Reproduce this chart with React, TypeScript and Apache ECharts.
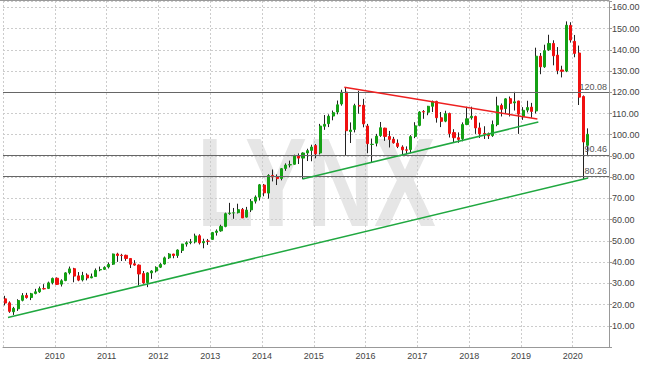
import React, { useEffect, useRef } from 'react';
import * as echarts from 'echarts';

// Monthly candles, Jan 2009 .. Apr 2020
const firstYear = 2009;
const opens = [
  22.7, 20.8, 16.6, 18.0, 22.0, 24.3, 23.3, 25.2, 26.0, 27.5, 27.6, 30.3,
  32.4, 29.6, 31.3, 35.0, 36.9, 33.5, 31.6, 33.9, 32.6, 33.2, 36.3, 36.6,
  37.7, 39.0, 43.8, 43.2, 43.2, 41.7, 39.2, 38.6, 34.6, 30.3, 34.9, 35.8,
  37.6, 39.1, 42.0, 43.8, 43.1, 45.5, 48.5, 49.2, 49.5, 52.4, 49.1, 49.9,
  50.7, 54.0, 54.7, 56.8, 62.9, 63.2, 63.3, 64.8, 61.2, 64.6, 68.7, 70.6,
  76.3, 72.5, 80.8, 80.1, 79.4, 84.1, 85.8, 86.1, 89.9, 89.0, 91.4, 92.6,
  94.9, 91.4, 104.0, 105.2, 108.8, 110.7, 114.5, 120.1, 101.5, 102.5, 113.8, 113.9,
  104.1, 95.4, 96.0, 99.6, 103.1, 99.2, 97.9, 96.0, 94.2, 92.9, 93.0, 99.2,
  104.4, 110.9, 110.6, 113.4, 115.7, 108.0, 106.4, 110.0, 101.0, 98.6, 98.1, 104.8,
  108.0, 108.6, 103.2, 100.6, 100.4, 99.6, 104.8, 113.8, 112.3, 117.0, 115.0, 115.9,
  108.5, 111.6, 113.0, 111.2, 137.0, 132.0, 140.0, 143.0, 137.5, 130.5, 130.0, 151.5,
  144.0, 138.5, 118.0, 95.0,
];
const highs = [
  24.1, 21.5, 18.9, 22.5, 25.4, 25.5, 25.5, 27.4, 28.5, 29.6, 30.8, 32.7,
  32.8, 31.9, 35.2, 37.9, 37.3, 35.3, 35.4, 34.7, 34.6, 37.0, 37.9, 38.0,
  39.8, 44.0, 44.4, 43.9, 43.5, 41.9, 40.9, 38.9, 35.8, 35.2, 36.2, 38.0,
  39.5, 42.6, 44.2, 43.9, 46.0, 48.6, 49.8, 50.9, 53.4, 53.1, 51.0, 50.9,
  54.2, 55.4, 57.6, 63.3, 67.9, 65.5, 67.5, 65.5, 66.0, 69.7, 71.4, 76.8,
  76.8, 81.4, 83.6, 81.3, 84.3, 86.5, 87.8, 90.6, 91.2, 91.7, 93.4, 95.3,
  95.6, 105.1, 109.3, 109.6, 111.4, 116.1, 121.2, 122.1, 105.8, 114.6, 120.7, 116.9,
  105.1, 98.2, 100.4, 106.0, 103.3, 101.8, 99.0, 97.8, 95.0, 94.5, 99.8, 105.9,
  111.1, 111.6, 113.6, 116.1, 116.0, 110.7, 111.3, 110.4, 102.6, 101.1, 105.8, 113.2,
  113.2, 109.0, 105.7, 104.0, 101.0, 106.7, 117.9, 114.7, 117.2, 118.0, 120.2, 116.0,
  113.0, 116.0, 115.0, 141.0, 138.5, 142.4, 147.1, 144.5, 141.3, 132.5, 153.4, 153.0,
  147.0, 142.0, 118.5, 103.0,
];
const lows = [
  19.6, 16.1, 15.1, 17.0, 21.5, 22.8, 22.1, 24.8, 25.5, 27.1, 27.3, 29.5,
  29.2, 28.5, 31.0, 34.2, 30.5, 31.0, 30.9, 31.4, 32.4, 33.1, 35.7, 36.3,
  37.0, 38.7, 40.1, 40.5, 40.6, 37.2, 38.3, 29.0, 29.8, 28.2, 32.1, 35.1,
  37.2, 38.8, 41.5, 41.8, 42.0, 44.3, 47.3, 48.4, 48.8, 48.3, 46.5, 48.1,
  50.6, 52.5, 54.3, 56.4, 62.3, 60.4, 62.9, 60.8, 61.0, 63.6, 67.6, 69.0,
  71.0, 69.9, 78.0, 76.3, 78.5, 83.0, 84.6, 85.9, 86.2, 79.1, 87.6, 87.5,
  88.9, 90.7, 102.3, 103.6, 106.8, 109.6, 113.7, 90.0, 96.1, 101.1, 109.9, 103.5,
  91.3, 86.8, 94.5, 99.0, 97.1, 94.0, 95.8, 93.7, 90.6, 90.8, 91.3, 98.4,
  104.0, 107.5, 109.2, 110.7, 105.7, 103.6, 105.9, 98.7, 96.2, 96.2, 96.9, 104.5,
  107.1, 100.4, 98.5, 98.0, 98.0, 99.0, 104.0, 108.6, 109.9, 108.6, 111.4, 100.4,
  107.0, 110.5, 108.0, 110.0, 128.5, 131.5, 139.5, 132.7, 128.5, 127.0, 129.5, 143.4,
  136.5, 114.0, 79.1, 90.5,
];
const closes = [
  20.7, 16.8, 18.2, 21.9, 24.2, 23.3, 25.1, 26.0, 27.5, 27.4, 30.2, 32.3,
  29.5, 31.2, 34.9, 36.8, 33.4, 31.5, 33.7, 32.5, 33.1, 36.1, 36.5, 37.5,
  38.9, 43.8, 43.1, 43.1, 41.7, 39.0, 38.6, 34.4, 30.2, 34.9, 35.8, 37.5,
  38.9, 42.0, 43.8, 43.1, 45.7, 48.5, 49.1, 49.5, 52.3, 49.1, 49.7, 49.8,
  53.9, 54.6, 56.8, 62.8, 63.1, 63.2, 64.7, 60.8, 64.5, 68.6, 70.6, 76.4,
  72.6, 80.8, 80.1, 79.3, 84.0, 85.7, 85.9, 89.9, 89.0, 91.4, 92.5, 94.2,
  91.0, 104.1, 104.9, 108.7, 110.4, 114.1, 120.0, 101.9, 102.2, 113.7, 113.5, 105.1,
  95.8, 95.5, 99.3, 103.3, 99.2, 97.8, 96.2, 94.5, 92.9, 92.7, 99.1, 104.2,
  110.7, 110.7, 113.4, 115.6, 108.0, 106.3, 109.9, 100.6, 98.6, 97.8, 104.8, 107.5,
  108.7, 103.2, 100.4, 100.3, 99.5, 104.8, 113.6, 112.0, 116.9, 114.8, 115.5, 109.7,
  111.5, 112.8, 111.0, 137.0, 132.0, 139.6, 143.0, 137.2, 130.3, 129.9, 151.6, 144.6,
  138.3, 117.7, 96.6, 100.2,
];

const levels = [120.08, 90.46, 80.26];
const longSupport = [[2009.096, 13.9], [2020.297, 79.6]];
const shortSupport = [[2014.783, 79.1], [2019.336, 106.0]];
const resistance = [[2015.59, 122.4], [2019.317, 107.4]];
const watermark = 'LYNX';

const monthTime = opens.map((_, i) => firstYear + (i + 0.5) / 12);
const fullCandles = opens.map((o, i) => [monthTime[i], o, closes[i], lows[i], highs[i]]);
const bodyCandles = opens.map((o, i) => [monthTime[i], o, closes[i], Math.min(o, closes[i]), Math.max(o, closes[i])]);

const FONT = '"Liberation Sans", Arial, sans-serif';

export default function App() {
  const ref = useRef<HTMLDivElement>(null);
  useEffect(() => {
    if (!ref.current) return;
    const chart = echarts.init(ref.current, null, { renderer: 'svg' });
    const isInt = (v: number) => Math.abs(v - Math.round(v)) < 1e-6;
    chart.setOption({
      animation: false,
      backgroundColor: '#ffffff',
      grid: { left: 0, right: 36, top: 1, bottom: 18, containLabel: false },
      xAxis: {
        type: 'value', min: 2009, max: 2020.7, interval: 1,
        axisLine: { show: true, onZero: false, lineStyle: { color: '#999999', width: 1 } },
        axisTick: { show: false },
        axisLabel: {
          fontSize: 9, color: '#444444', margin: 4, fontFamily: FONT,
          formatter: (v: number) => (isInt(v) && Math.round(v) > 2009 ? String(Math.round(v)) : ''),
        },
        splitLine: { show: true, lineStyle: { color: '#cccccc', type: [2, 2], width: 1 } },
      },
      yAxis: {
        type: 'value', position: 'right', min: 0, max: 163, interval: 10,
        axisLine: { show: true, lineStyle: { color: '#999999', width: 1 } },
        axisTick: { show: true, length: 3, lineStyle: { color: '#999999' } },
        axisLabel: {
          fontSize: 9, color: '#444444', margin: 3, fontFamily: FONT,
          formatter: (v: number) => (v > 0 && isInt(v / 10) ? v.toFixed(2) : ''),
        },
        splitLine: { show: true, lineStyle: { color: '#cccccc', type: [2, 2], width: 1 } },
      },
      graphic: [
        {
          type: 'text', x: 197, y: 182, scaleX: 0.73, scaleY: 1, z: -10, silent: true,
          style: {
            text: watermark, fill: '#e6e6e6', fontSize: 127, fontWeight: 'bold', fontFamily: FONT,
            textAlign: 'left', textVerticalAlign: 'middle', align: 'left', verticalAlign: 'middle',
          },
        },
        {
          type: 'line', z: 5, silent: true,
          shape: { x1: 0, y1: 0.5, x2: 609, y2: 0.5 },
          style: { stroke: '#999999', lineWidth: 1 },
        },
      ],
      series: [
        {
          type: 'candlestick', name: 'wick', data: fullCandles, barWidth: 1, z: 2,
          itemStyle: { color: '#222222', color0: '#222222', borderColor: '#222222', borderColor0: '#222222', borderWidth: 1 },
        },
        {
          type: 'candlestick', name: 'body', data: bodyCandles, barWidth: 2.6, z: 3,
          itemStyle: { color: '#14a014', color0: '#f01010', borderColor: '#14a014', borderColor0: '#f01010', borderWidth: 1 },
          markLine: {
            silent: true, symbol: 'none', z: 4,
            lineStyle: { color: '#666666', width: 1, type: 'solid' },
            label: {
              show: true, position: 'insideEndTop', distance: [2, 1],
              fontSize: 9, color: '#555555', fontFamily: FONT,
              formatter: (p: any) => Number(p.value).toFixed(2),
            },
            data: levels.map((v) => ({ yAxis: v })),
          },
        },
        {
          type: 'line', data: longSupport, symbol: 'none', z: 6, silent: true,
          lineStyle: { color: '#20a840', width: 1.5 },
        },
        {
          type: 'line', data: shortSupport, symbol: 'none', z: 6, silent: true,
          lineStyle: { color: '#20a840', width: 1.5 },
        },
        {
          type: 'line', data: resistance, symbol: 'none', z: 6, silent: true,
          lineStyle: { color: '#ee2020', width: 1.5 },
        },
      ],
    });
    return () => chart.dispose();
  }, []);
  return (
    <div
      ref={ref}
      style={{ position: 'absolute', left: 0, top: 0, width: 645, height: 365, background: '#fff' }}
    />
  );
}
